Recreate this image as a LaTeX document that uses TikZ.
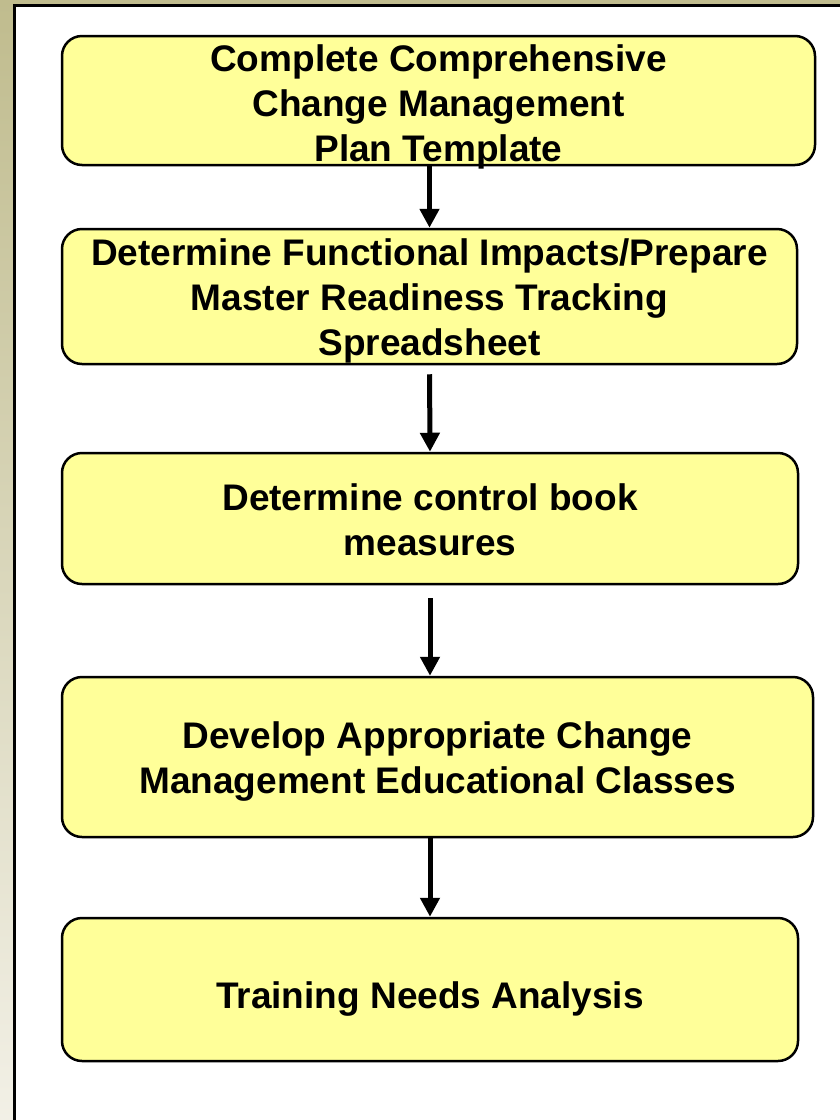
\documentclass[tikz,border=0pt]{standalone}
\usepackage{fontspec}
\setmainfont{Liberation Sans}
\usetikzlibrary{arrows.meta}
\definecolor{khaki}{RGB}{192,188,142}
\definecolor{khakilight}{RGB}{242,240,230}
\definecolor{boxfill}{RGB}{255,255,153}
\begin{document}
\begin{tikzpicture}[x=1pt,y=-1pt,
  stepbox/.style={draw=black, line width=2.5pt, fill=boxfill, rounded corners=20pt, inner sep=0pt},
  steptext/.style={inner sep=0pt, align=center, font=\fontsize{37}{45}\selectfont\bfseries},
  flow/.style={line width=5pt, -{Triangle[width=19pt,length=19pt]}}]
\useasboundingbox (0,0) rectangle (840,1120);
\shade[top color=khaki, bottom color=khakilight] (0,0) rectangle (840,1120);
\fill[white] (14.5,5.5) rectangle (840,1120);
\draw[line width=3pt] (14.5,1120) -- (14.5,5.5) -- (840,5.5);

\node[stepbox, minimum width=753pt, minimum height=129pt] (b1) at (438.5,100.5) {};
\node[steptext] (t1) at ([yshift=-6pt]b1.center)
  {Complete Comprehensive\\Change Management\\Plan Template};
\node[stepbox, minimum width=735pt, minimum height=135pt] (b2) at (429.5,296.5) {};
\node[steptext] (t2) at ([yshift=-4pt]b2.center)
  {Determine Functional Impacts/Prepare\\Master Readiness Tracking\\Spreadsheet};
\node[stepbox, minimum width=736pt, minimum height=131pt] (b3) at (430,518.5) {};
\node[steptext] (t3) at ([yshift=-1pt]b3.center)
  {Determine control book\\measures};
\node[stepbox, minimum width=751pt, minimum height=160pt] (b4) at (437.5,757) {};
\node[steptext] (t4) at ([yshift=-5pt]b4.center)
  {Develop Appropriate Change\\Management Educational Classes};
\node[stepbox, minimum width=736pt, minimum height=143pt] (b5) at (430,989.5) {};
\node[steptext] (t5) at ([yshift=-10pt]b5.center)
  {Training Needs Analysis};

\draw[flow] (b1.south -| b2.north) -- (b2.north);
\draw[flow, shorten <=9pt] (b2.south) -- (b3.north);
\draw[flow, shorten <=13pt] (b3.south) -- (b3.south |- b4.north);
\draw[flow] (b4.south -| b5.north) -- (b5.north);
\end{tikzpicture}
\end{document}
